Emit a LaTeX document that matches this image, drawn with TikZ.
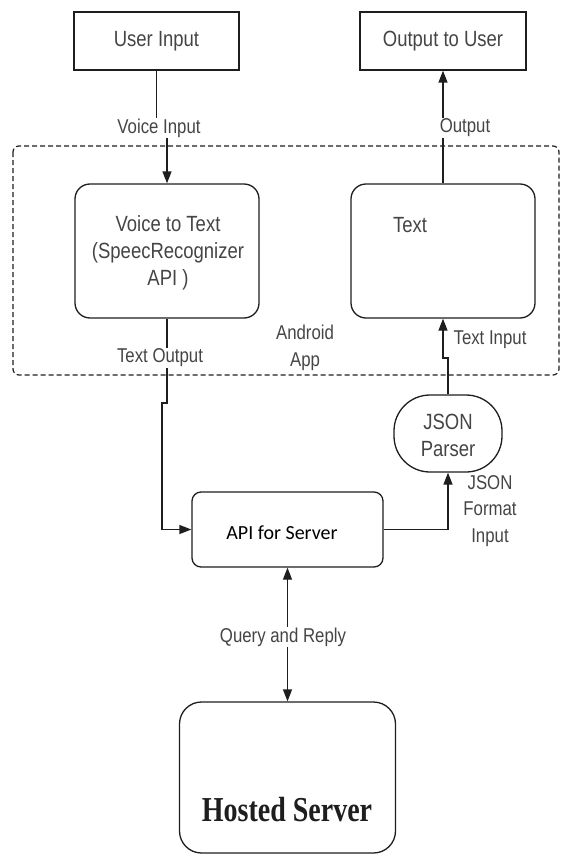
\documentclass[tikz,border=0pt]{standalone}
\usepackage{fontspec}
\usetikzlibrary{arrows.meta}
\newfontfamily\arialn[FakeStretch=0.84]{Liberation Sans}
\newfontfamily\calib{Carlito}
\newfontfamily\timesf{Liberation Serif}
\definecolor{txt}{HTML}{454545}
\definecolor{ln}{HTML}{1E1E1E}
\begin{document}
\begin{tikzpicture}[x=1pt,y=-1pt,
  box/.style={draw=ln, line width=1.3pt, inner sep=0pt, fill=white},
  btxt/.style={font=\arialn\fontsize{22}{27}\selectfont, text=txt, align=center, inner sep=0pt},
  lbl/.style={font=\arialn\fontsize{20}{26.5}\selectfont, text=txt, fill=white, inner sep=1pt, align=center},
  conn/.style={draw=ln, line width=1.3pt},
  tip/.style={-{Triangle[length=12pt,width=9pt]}},
  dtip/.style={{Triangle[length=12pt,width=9pt]}-{Triangle[length=12pt,width=9pt]}}
]
\useasboundingbox (0,0) rectangle (562,856);
% android app frame
\draw[ln, line width=1.2pt, dash pattern=on 5pt off 3pt, rounded corners=6pt] (13,146) rectangle (559,375);
% boxes
\node[box, minimum width=165pt, minimum height=58pt] (user) at (156.5,41) {};
\node[btxt] (usertxt) at (156.5,41) {User Input};
\node[box, minimum width=166pt, minimum height=58pt] (outuser) at (443,41) {};
\node[btxt] (outtxt) at (443,41) {Output to User};
\node[box, rounded corners=15pt, minimum width=184pt, minimum height=134pt] (voice) at (167,251) {};
\node[btxt] (voicetxt) at (168,253) {Voice to Text\\(SpeecRecognizer\\API )};
\node[box, rounded corners=15pt, minimum width=184pt, minimum height=134pt] (textbox) at (443,251) {};
\node[btxt] (texttxt) at (410,225) {Text};
\node[box, rounded corners=36pt, minimum width=108pt, minimum height=77pt] (parser) at (448,433.5) {};
\node[btxt] (parsertxt) at (448,435) {JSON\\Parser};
\node[box, rounded corners=9pt, minimum width=191pt, minimum height=75pt] (api) at (287.5,529.5) {};
\node[font=\calib\fontsize{20}{24}\selectfont, text=black, inner sep=0pt] (apitxt) at (282,533) {API for Server};
\node[box, rounded corners=22pt, minimum width=216pt, minimum height=151pt] (hosted) at (287.5,777.5) {};
\node[font=\timesf\bfseries\fontsize{28}{32}\selectfont, text=ln, inner sep=0pt] (hostedtxt) at (287,810) {\scalebox{1}[1.25]{Hosted Server}};
% coordinates for bends
\coordinate (v1) at (156.5,130);
\coordinate (v2) at (167,130);
\coordinate (t1) at (167,403);
\coordinate (t2) at (162,403);
\coordinate (p1) at (448,358);
\coordinate (p2) at (443,358);
% connectors
\draw[conn,tip] (user.south) -- (v1) -- (v2) -- (voice.north);
\draw[conn,tip] (textbox.north) -- (outuser.south);
\draw[conn,tip] (voice.south) -- (t1) -- (t2) |- (api.west);
\draw[conn,tip] (api.east) -| (parser.south);
\draw[conn,tip] (parser.north) -- (p1) -- (p2) -- (textbox.south);
\draw[conn,dtip] (api.south) -- (hosted.north);
% labels
\node[lbl] (l1) at (159,128) {Voice Input};
\node[lbl] (l2) at (465,128) {Output};
\node[lbl] (l3) at (160,358) {Text Output};
\node[lbl, fill=none] (l4) at (490,340) {Text Input};
\node[lbl, fill=none] (l5) at (305,348) {Android\\App};
\node[lbl, fill=none] (l6) at (490,511) {JSON\\Format\\Input};
\node[lbl] (l7) at (283,637) {Query and Reply};
\end{tikzpicture}
\end{document}
